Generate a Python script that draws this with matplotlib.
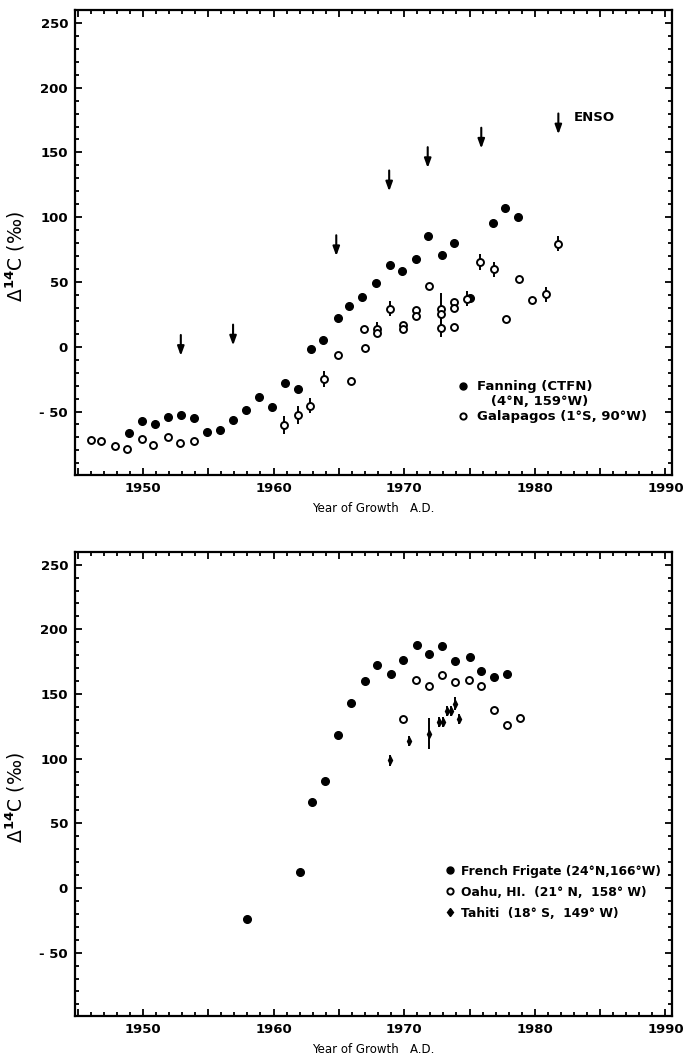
import matplotlib.pyplot as plt
from matplotlib.lines import Line2D
from matplotlib.ticker import FixedLocator, FixedFormatter, MultipleLocator

# --- データ (上段: Fanning / Galapagos) ---
fanning_year = [1948.9, 1949.9, 1950.9, 1951.9, 1952.9, 1953.9, 1954.9, 1955.9,
                1956.9, 1957.9, 1958.9, 1959.9, 1960.9, 1961.85, 1962.9, 1963.8,
                1964.9, 1965.8, 1966.8, 1967.85, 1968.9, 1969.8, 1970.9, 1971.8,
                1972.9, 1973.85, 1975.05, 1976.8, 1977.7, 1978.7]
fanning_d14c = [-66.6, -57.6, -59.9, -53.9, -52.4, -55.0, -65.8, -64.3,
                -56.3, -48.8, -38.7, -46.2, -28.1, -32.3, -1.8, 5.1,
                22.4, 31.2, 38.5, 49.1, 63.2, 58.8, 67.8, 85.4,
                70.7, 80.2, 37.4, 95.4, 106.8, 99.8]

galap_year = [1946.0, 1946.8, 1947.9, 1948.8, 1949.9, 1950.8, 1951.9, 1952.8,
              1953.9, 1960.8, 1961.85, 1962.8, 1963.85, 1964.9, 1965.9, 1966.9,
              1967.0, 1967.9, 1967.9, 1968.9, 1969.9, 1969.9, 1970.9, 1970.9,
              1971.9, 1972.8, 1972.8, 1972.8, 1973.85, 1973.85, 1973.85, 1974.8,
              1975.8, 1976.85, 1977.8, 1978.8, 1979.8, 1980.85, 1981.8]
galap_d14c = [-71.7, -73.0, -77.0, -79.0, -71.0, -76.0, -69.4, -74.6,
              -73.0, -60.4, -52.4, -45.4, -24.8, -6.5, -26.4, 13.9,
              -1.2, 13.9, 11.0, 29.4, 16.7, 13.9, 28.3, 23.7,
              46.9, 29.2, 25.5, 14.5, 34.5, 29.6, 15.3, 37.2,
              65.4, 59.8, 21.8, 52.4, 36.1, 40.5, 79.7]
galap_err = [0, 0, 0, 0, 0, 0, 0, 0,
             0, 7, 7, 6, 6, 0, 0, 0,
             0, 5, 0, 6, 0, 0, 0, 0,
             0, 12, 0, 7, 0, 0, 0, 6,
             6, 6, 0, 0, 0, 6, 6]

enso_year = [1952.9, 1956.9, 1964.8, 1968.85, 1971.8, 1975.9, 1981.8]
enso_tip = [-7, 1, 70, 120, 138, 153, 164]

# --- データ (下段: French Frigate / Oahu / Tahiti) ---
ff_year = [1958.0, 1962.0, 1962.97, 1963.9, 1964.97, 1965.9, 1967.0, 1967.9, 1968.98,
           1969.9, 1971.0, 1971.9, 1972.9, 1973.9, 1975.0, 1975.9, 1976.9, 1977.9]
ff_d14c = [-24.2, 12.0, 66.6, 83.0, 118.4, 143.1, 160.0, 172.3, 165.6,
           176.4, 188.2, 181.0, 187.2, 175.4, 178.5, 167.7, 163.5, 165.4]

oahu_year = [1969.9, 1970.9, 1971.9, 1972.9, 1973.9, 1974.96, 1975.9, 1976.9, 1977.9, 1978.9]
oahu_d14c = [130.8, 161.0, 155.9, 165.0, 158.9, 160.5, 155.9, 137.7, 126.2, 131.2]

tahiti_year = [1968.9, 1970.4, 1971.9, 1972.7, 1973.0, 1973.3, 1973.6, 1973.9, 1974.2]
tahiti_d14c = [98.7, 113.5, 119.2, 128.2, 128.2, 136.6, 136.6, 142.5, 130.8]
tahiti_err = [4, 4, 12, 4, 4, 4, 4, 5, 4]

x_ticks = [1950, 1960, 1970, 1980, 1990]
y_ticks = [-50, 0, 50, 100, 150, 200, 250]
y_labels = ['- 50', '0', '50', '100', '150', '200', '250']

plt.rcParams['font.family'] = ['DejaVu Sans']
plt.rcParams['font.weight'] = 'bold'

fig = plt.figure(figsize=(6.83, 10.6), dpi=100)
ax1 = fig.add_axes([0.1098, 0.5519, 0.8741, 0.4387])
ax2 = fig.add_axes([0.1098, 0.0415, 0.8741, 0.4380])

ylab = '\u0394$^{\\mathbf{14}}$C (\u2030)'

for ax in (ax1, ax2):
    ax.set_xlim(1944.8, 1990.5)
    ax.set_ylim(-99, 260)
    for s in ax.spines.values():
        s.set_linewidth(1.6)
    major_x = list(range(1945, 1991, 5))
    ax.xaxis.set_major_locator(FixedLocator(major_x))
    ax.xaxis.set_major_formatter(FixedFormatter([str(v) if v in x_ticks else '' for v in major_x]))
    ax.xaxis.set_minor_locator(MultipleLocator(1))
    ax.yaxis.set_major_locator(FixedLocator(y_ticks))
    ax.yaxis.set_major_formatter(FixedFormatter(y_labels))
    ax.yaxis.set_minor_locator(MultipleLocator(10))
    ax.tick_params(which='both', direction='in', top=True, right=True, width=1.3)
    ax.tick_params(which='major', length=5, labelsize=9.5, pad=5)
    ax.tick_params(which='minor', length=3)
    ax.set_xlabel('Year of Growth   A.D.', fontsize=8.5, labelpad=5)
    ax.set_ylabel(ylab, fontsize=13.5)
    ax.yaxis.set_label_coords(-0.08, 0.47)

# 上段
ax1.plot(fanning_year, fanning_d14c, 'o', color='black', ms=5.5)
ax1.errorbar(galap_year, galap_d14c, yerr=galap_err, fmt='o', mfc='white', mec='black',
             mew=1.4, ms=5, ecolor='black', elinewidth=1.4, capsize=0)
for x, y in zip(enso_year, enso_tip):
    ax1.annotate('', xy=(x, y), xytext=(0, 15), textcoords='offset points',
                 arrowprops=dict(arrowstyle='-|>,head_length=0.55,head_width=0.2',
                                 color='black', lw=1.5, shrinkA=0, shrinkB=0))
ax1.text(1983.0, 177, 'ENSO', fontsize=9.5, va='center')

h_fan = Line2D([], [], ls='none', marker='o', color='black', ms=5)
h_blank = Line2D([], [], ls='none')
h_gal = Line2D([], [], ls='none', marker='o', mfc='white', mec='black', mew=1.4, ms=4.5)
ax1.legend([h_fan, h_blank, h_gal],
           ['Fanning (CTFN)', '   (4\u00b0N, 159\u00b0W)', 'Galapagos (1\u00b0S, 90\u00b0W)'],
           loc='lower left', bbox_to_anchor=(0.633, 0.1), frameon=False, fontsize=9.5,
           handlelength=0.7, handletextpad=0.7, labelspacing=0.15, borderaxespad=0)

# 下段
ax2.plot(ff_year, ff_d14c, 'o', color='black', ms=5.5)
ax2.plot(oahu_year, oahu_d14c, 'o', mfc='white', mec='black', mew=1.4, ms=5)
ax2.errorbar(tahiti_year, tahiti_d14c, yerr=tahiti_err, fmt='d', color='black', ms=4,
             elinewidth=1.4, capsize=0)

h_ff = Line2D([], [], ls='none', marker='o', color='black', ms=5)
h_oahu = Line2D([], [], ls='none', marker='o', mfc='white', mec='black', mew=1.4, ms=4.5)
h_tah = Line2D([], [], ls='none', marker='d', color='black', ms=4.5)
ax2.legend([h_ff, h_oahu, h_tah],
           ['French Frigate (24\u00b0N,166\u00b0W)', 'Oahu, HI.  (21\u00b0 N,  158\u00b0 W)',
            'Tahiti  (18\u00b0 S,  149\u00b0 W)'],
           loc='lower left', bbox_to_anchor=(0.612, 0.197), frameon=False, fontsize=8.9,
           handlelength=0.7, handletextpad=0.6, labelspacing=0.65, borderaxespad=0)

plt.savefig('out.png', dpi=100)
plt.close()
